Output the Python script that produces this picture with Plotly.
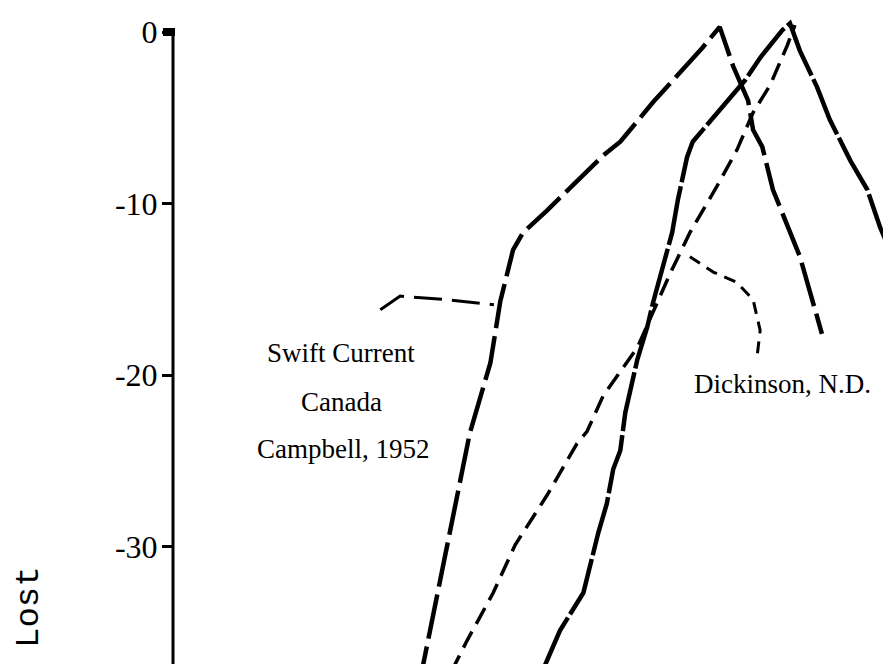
import plotly.graph_objects as go

# ---- data (x in relative time units, y = amount lost) ----
swift_x = [34.5, 37.6, 41.8, 44.7, 46.1, 47.9, 49.3, 52.7, 60.6, 63.0, 67.6, 74.6, 77.0,
           78.9, 81.0, 81.7, 83.0, 84.5, 88.3, 91.4]
swift_y = [-38.4, -32.1, -23.4, -19.3, -15.7, -12.7, -11.7, -10.4, -7.2, -6.4, -4.1, -0.9, 0.3,
           -2.0, -4.0, -5.7, -6.7, -9.2, -13.1, -17.6]

solid_x = [52.0, 54.5, 57.8, 59.9, 61.1, 62.0, 63.0, 63.7, 65.4, 66.8, 67.6, 69.0, 70.3, 71.1,
           72.4, 73.2, 76.6, 80.6, 82.7, 85.8, 86.9, 88.3, 90.7, 92.5, 95.4, 97.8, 99.6, 101.7]
solid_y = [-37.3, -34.9, -32.7, -29.2, -27.5, -25.5, -24.4, -22.2, -19.1, -17.2, -15.8, -13.7,
           -11.7, -9.8, -7.3, -6.4, -4.7, -2.8, -1.5, 0.1, 0.5, -1.1, -3.2, -5.1, -7.5, -9.2,
           -11.4, -13.4]

dick_x = [39.2, 41.4, 45.1, 48.2, 52.7, 56.9, 58.3, 60.6, 65.4, 70.0, 72.8, 76.6, 79.4, 81.7,
          84.1, 86.5, 87.6]
dick_y = [-37.3, -35.5, -32.7, -29.9, -27.0, -24.0, -23.3, -21.2, -18.4, -14.1, -11.7, -9.0,
          -6.9, -4.7, -3.1, -0.8, 0.4]

swift_leader_x = [29.2, 32.0, 38.3, 45.2]
swift_leader_y = [-16.2, -15.4, -15.6, -15.9]

dick_leader_x = [72.8, 76.1, 79.4, 81.7, 82.7, 82.3]
dick_leader_y = [-13.1, -14.0, -14.6, -15.6, -17.4, -18.8]

y_ticks = [0, -10, -20, -30]
y_tick_labels = ["0", "-10", "-20", "-30"]

swift_label = ["Swift Current", "Canada", "Campbell, 1952"]
swift_label_x = [23.7, 23.7, 23.9]
swift_label_y = [-18.7, -21.6, -24.3]
dick_label = "Dickinson, N.D."
dick_label_pos = (85.8, -20.5)
y_title = "Lost"

BLACK = "#000000"
SERIF = "Liberation Serif, Times New Roman, serif"

fig = go.Figure()
fig.add_trace(go.Scatter(x=swift_x, y=swift_y, mode="lines",
                         line=dict(color=BLACK, width=4.5, dash="45px,8px"), showlegend=False))
fig.add_trace(go.Scatter(x=solid_x, y=solid_y, mode="lines",
                         line=dict(color=BLACK, width=4.5, dash="60px,4px"), showlegend=False))
fig.add_trace(go.Scatter(x=dick_x, y=dick_y, mode="lines",
                         line=dict(color=BLACK, width=3.5, dash="18px,9px"), showlegend=False))
fig.add_trace(go.Scatter(x=swift_leader_x, y=swift_leader_y, mode="lines",
                         line=dict(color=BLACK, width=3, dash="28px,10px"), showlegend=False))
fig.add_trace(go.Scatter(x=dick_leader_x, y=dick_leader_y, mode="lines",
                         line=dict(color=BLACK, width=3, dash="12px,8px"), showlegend=False))

for txt, xx, yy in zip(swift_label, swift_label_x, swift_label_y):
    fig.add_annotation(x=xx, y=yy, xref="x", yref="y", text=txt, showarrow=False,
                       xanchor="center", yanchor="middle",
                       font=dict(family=SERIF, size=27, color=BLACK))
fig.add_annotation(x=dick_label_pos[0], y=dick_label_pos[1], xref="x", yref="y",
                   text=dick_label, showarrow=False, xanchor="center", yanchor="middle",
                   font=dict(family=SERIF, size=27, color=BLACK))
fig.add_annotation(x=-0.2028, y=0.088, xref="paper", yref="paper", text=y_title,
                   showarrow=False, textangle=-90, xanchor="center", yanchor="middle",
                   font=dict(family="Liberation Mono, Courier New, monospace", size=34,
                             color=BLACK))

# axis line (starts at the 0 tick) and its cap
fig.add_shape(type="line", xref="paper", yref="paper", x0=0, x1=0, y0=0, y1=0.9815,
              line=dict(color=BLACK, width=3))
fig.add_shape(type="rect", xref="paper", yref="paper", x0=-10 / 710, x1=2 / 710,
              y0=0.9691, y1=0.9815, line=dict(width=0), fillcolor=BLACK)

fig.update_layout(
    width=883, height=664,
    margin=dict(l=173, r=0, t=16, b=0),
    paper_bgcolor="white", plot_bgcolor="white",
    xaxis=dict(visible=False, range=[0, 100]),
    yaxis=dict(range=[-36.851, 0.933], showgrid=False, zeroline=False, showline=False,
               tickmode="array", tickvals=y_ticks, ticktext=y_tick_labels,
               ticks="outside", ticklen=10, tickwidth=3, tickcolor=BLACK,
               ticklabelstandoff=-2,
               tickfont=dict(family=SERIF, size=32, color=BLACK)),
)

fig.write_html("out.html")
